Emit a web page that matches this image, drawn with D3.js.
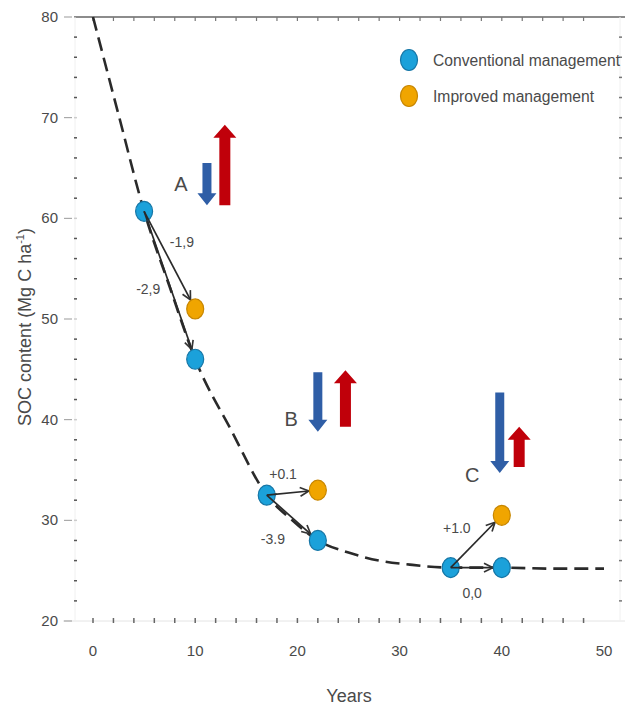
<!DOCTYPE html>
<html><head><meta charset="utf-8">
<script src="https://cdn.jsdelivr.net/npm/d3@7"></script>
<style>
html,body{margin:0;padding:0;background:#fff;}
svg text{font-family:"Liberation Sans Narrow","Liberation Sans",Arial,sans-serif;fill:#4a4a4a;}
</style></head>
<body><svg id="c" width="625" height="710"></svg>
<script>
// ---- data ----
const curveYears = [0, 2.5, 5, 7.5, 10, 13.5, 17, 19.5, 22, 25, 28, 31, 35, 40, 45, 50];
const curveSOC   = [80, 70.3, 60.7, 53.2, 46, 39, 32.5, 30, 28, 26.8, 26.0, 25.6, 25.3, 25.3, 25.2, 25.2];

const convYears = [5, 10, 17, 22, 35, 40];
const convSOC   = [60.7, 46, 32.5, 28, 25.3, 25.3];
const impYears  = [10, 22, 40];
const impSOC    = [51, 33, 30.5];

const changeFromYear = [5, 5, 17, 17, 35, 35];
const changeFromSOC  = [60.7, 60.7, 32.5, 32.5, 25.3, 25.3];
const changeToYear   = [10, 10, 22, 22, 40, 40];
const changeToSOC    = [51, 46, 33, 28, 30.5, 25.3];
const changeLabels   = ["-1,9", "-2,9", "+0.1", "-3.9", "+1.0", "0,0"];
const changeLabelYear = [8.7, 5.4, 18.6, 17.6, 35.6, 37.1];
const changeLabelSOC  = [57.6, 53.0, 34.6, 28.1, 29.2, 22.8];

const phaseLabels   = ["A", "B", "C"];
const phaseLabelYear = [8.6, 19.4, 37.1];
const phaseLabelSOC  = [63.4, 40.1, 34.5];
const lossYear   = [11.15, 22.0, 39.8];
const lossTop    = [65.5, 44.7, 42.7];
const lossBottom = [61.3, 38.8, 34.7];
const gainYear   = [12.9, 24.7, 41.7];
const gainBottom = [61.3, 39.3, 35.3];
const gainTop    = [69.3, 44.9, 39.3];

const xTicks = [0, 10, 20, 30, 40, 50];
const yTicks = [20, 30, 40, 50, 60, 70, 80];
const legendLabels = ["Conventional management", "Improved management"];

// ---- drawing ----
const svg = d3.select("#c");
const x = d3.scaleLinear().domain([0, 50]).range([93, 604]);
const y = d3.scaleLinear().domain([20, 80]).range([621, 17]);

const cBlue = "#1ba1da", cBlueS = "#1676a6", cOr = "#f0a500", cOrS = "#c78600";
const aBlue = "#2f5ea6", aRed = "#c0000a";

// frame: top line
svg.append("line").attr("x1", 74).attr("x2", 625).attr("y1", y(80)).attr("y2", y(80))
  .attr("stroke", "#666").attr("stroke-width", 1.5);
// faint bottom / left / right lines
svg.append("line").attr("x1", 63).attr("x2", 625).attr("y1", y(20)).attr("y2", y(20))
  .attr("stroke", "#e4e4e4").attr("stroke-width", 1);
svg.append("line").attr("x1", 75).attr("x2", 75).attr("y1", y(80)).attr("y2", y(20))
  .attr("stroke", "#f0f0f0").attr("stroke-width", 1);
svg.append("line").attr("x1", 620).attr("x2", 620).attr("y1", y(80)).attr("y2", y(20))
  .attr("stroke", "#f0f0f0").attr("stroke-width", 1);

const minorX = d3.range(0, 50, 2);
const minorY = d3.range(22, 80, 2);
// top ticks
svg.append("g").selectAll("line").data(minorX).join("line")
  .attr("x1", d => x(d)).attr("x2", d => x(d)).attr("y1", y(80)).attr("y2", y(80) + 4)
  .attr("stroke", "#777").attr("stroke-width", 1.2);
// bottom ticks
svg.append("g").selectAll("line").data(minorX).join("line")
  .attr("x1", d => x(d)).attr("x2", d => x(d)).attr("y1", y(20) - 3).attr("y2", y(20) + 2)
  .attr("stroke", "#666").attr("stroke-width", 1.5);
// left ticks
svg.append("g").selectAll("line").data(minorY).join("line")
  .attr("x1", 74).attr("x2", 77).attr("y1", d => y(d)).attr("y2", d => y(d))
  .attr("stroke", d => d % 10 === 0 ? "#ccc" : "#555").attr("stroke-width", 1.5);
svg.append("g").selectAll("line").data(yTicks).join("line")
  .attr("x1", 64).attr("x2", 72).attr("y1", d => y(d)).attr("y2", d => y(d))
  .attr("stroke", "#999").attr("stroke-width", 1);
// right ticks
svg.append("g").selectAll("line").data(minorY).join("line")
  .attr("x1", 619).attr("x2", 622).attr("y1", d => y(d)).attr("y2", d => y(d))
  .attr("stroke", "#777").attr("stroke-width", 1.5);

// tick labels
svg.append("g").selectAll("text").data(yTicks).join("text")
  .attr("x", 58).attr("y", d => y(d) + 5).attr("text-anchor", "end")
  .attr("font-size", 15).text(d => d);
svg.append("g").selectAll("text").data(xTicks).join("text")
  .attr("x", d => x(d)).attr("y", 656).attr("text-anchor", "middle")
  .attr("font-size", 15).text(d => d);

// axis titles
svg.append("text").attr("x", 349).attr("y", 702).attr("text-anchor", "middle")
  .attr("font-size", 18).text("Years");
const yt = svg.append("text").attr("transform", "translate(31,327) rotate(-90)")
  .attr("text-anchor", "middle").attr("font-size", 18);
yt.append("tspan").text("SOC content (Mg C ha");
yt.append("tspan").attr("dy", -7).attr("font-size", 11).text("-1");
yt.append("tspan").attr("dy", 7).text(")");

// dashed curve
const curveData = curveYears.map((t, i) => [t, curveSOC[i]]);
svg.append("path").datum(curveData)
  .attr("d", d3.line().x(d => x(d[0])).y(d => y(d[1])).curve(d3.curveMonotoneX))
  .attr("fill", "none").attr("stroke", "#2a2a2a").attr("stroke-width", 2.6)
  .attr("stroke-dasharray", "14,7");

// thick phase arrows
function thickArrow(xc, y0, y1, shaftW, headW, headL, color) {
  const dir = y1 > y0 ? 1 : -1;
  const yb = y1 - dir * headL;
  const pts = [
    [xc - shaftW / 2, y0], [xc + shaftW / 2, y0], [xc + shaftW / 2, yb],
    [xc + headW / 2, yb], [xc, y1], [xc - headW / 2, yb], [xc - shaftW / 2, yb]
  ];
  svg.append("polygon").attr("points", pts.map(p => p.join(",")).join(" ")).attr("fill", color);
}
phaseLabels.forEach((lab, i) => {
  thickArrow(x(lossYear[i]), y(lossTop[i]), y(lossBottom[i]), 9, 19, 12, aBlue);
  thickArrow(x(gainYear[i]), y(gainBottom[i]), y(gainTop[i]), 11, 23, 13, aRed);
  svg.append("text").attr("x", x(phaseLabelYear[i])).attr("y", y(phaseLabelSOC[i]) + 7)
    .attr("text-anchor", "middle").attr("font-size", 20).text(lab);
});

// change arrows
svg.append("defs").append("marker").attr("id", "ah")
  .attr("viewBox", "0 0 10 10").attr("refX", 9).attr("refY", 5)
  .attr("markerWidth", 11).attr("markerHeight", 11).attr("markerUnits", "userSpaceOnUse")
  .attr("orient", "auto")
  .append("path").attr("d", "M1,1 L9,5 L1,9").attr("fill", "none")
  .attr("stroke", "#333").attr("stroke-width", 1.5);
changeLabels.forEach((lab, i) => {
  const x0 = x(changeFromYear[i]), y0 = y(changeFromSOC[i]);
  const x1 = x(changeToYear[i]), y1 = y(changeToSOC[i]);
  const dx = x1 - x0, dy = y1 - y0, L = Math.hypot(dx, dy);
  const ang = Math.atan2(dy, dx);
  const r = 1 / Math.sqrt((Math.cos(ang) / 9) ** 2 + (Math.sin(ang) / 10.5) ** 2);
  svg.append("line").attr("x1", x0).attr("y1", y0)
    .attr("x2", x1 - dx / L * r).attr("y2", y1 - dy / L * r)
    .attr("stroke", "#2a2a2a").attr("stroke-width", 1.7).attr("marker-end", "url(#ah)");
  svg.append("text").attr("x", x(changeLabelYear[i])).attr("y", y(changeLabelSOC[i]) + 5)
    .attr("text-anchor", "middle").attr("font-size", 14).text(lab);
});

// points
svg.append("g").selectAll("ellipse").data(convYears).join("ellipse")
  .attr("cx", d => x(d)).attr("cy", (d, i) => y(convSOC[i])).attr("rx", 8.5).attr("ry", 10)
  .attr("fill", cBlue).attr("stroke", cBlueS).attr("stroke-width", 1.2);
svg.append("g").selectAll("ellipse").data(impYears).join("ellipse")
  .attr("cx", d => x(d)).attr("cy", (d, i) => y(impSOC[i])).attr("rx", 8.5).attr("ry", 10)
  .attr("fill", cOr).attr("stroke", cOrS).attr("stroke-width", 1.2);

// arrow starts drawn over source points
changeLabels.forEach((lab, i) => {
  const x0 = x(changeFromYear[i]), y0 = y(changeFromSOC[i]);
  const x1 = x(changeToYear[i]), y1 = y(changeToSOC[i]);
  const dx = x1 - x0, dy = y1 - y0, L = Math.hypot(dx, dy);
  svg.append("line").attr("x1", x0).attr("y1", y0)
    .attr("x2", x0 + dx / L * 10).attr("y2", y0 + dy / L * 10)
    .attr("stroke", "#2a2a2a").attr("stroke-width", 1.7);
});

// legend
const legColors = [[cBlue, cBlueS], [cOr, cOrS]];
const legY = [60, 96];
const legW = [187, 161];
legendLabels.forEach((lab, i) => {
  svg.append("ellipse").attr("cx", 409).attr("cy", legY[i]).attr("rx", 8.5).attr("ry", 10.5)
    .attr("fill", legColors[i][0]).attr("stroke", legColors[i][1]).attr("stroke-width", 1.2);
  svg.append("text").attr("x", 433).attr("y", legY[i] + 6).attr("font-size", 16)
    .attr("textLength", legW[i]).attr("lengthAdjust", "spacingAndGlyphs").text(lab);
});
</script></body></html>
